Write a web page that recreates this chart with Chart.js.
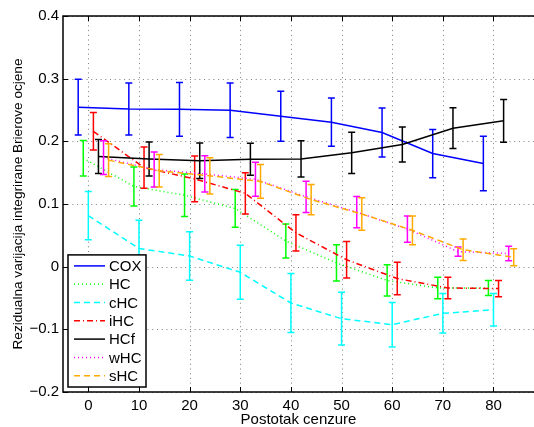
<!DOCTYPE html>
<html>
<head>
<meta charset="UTF-8" />
<script src="https://cdn.jsdelivr.net/npm/chart.js@4.4.0/dist/chart.umd.min.js"></script>
<style>
  body { margin: 0; background: #fff; }
  #wrap { width: 534px; height: 427px; }
</style>
</head>
<body>
<div id="wrap"><canvas id="chart" width="534" height="427"></canvas></div>
<script>
// postotak cenzure (each method drawn slightly shifted so the bars don't overlap)
const censoring = [0, 10, 20, 30, 40, 50, 60, 70, 80];
const names = ['COX', 'HC', 'cHC', 'iHC', 'HCf', 'wHC', 'sHC'];
const shift = [-2, -1, 0, 1, 2, 3, 4];

const cox    = [0.2545, 0.2515, 0.251, 0.2495, 0.240, 0.2305, 0.214, 0.1805, 0.1645];
const coxErr = [0.0445, 0.0415, 0.043, 0.0435, 0.040, 0.0385, 0.039, 0.0385, 0.0435];
const hc     = [0.173, 0.128, 0.114, 0.093, 0.041, 0.006, -0.022, -0.034, -0.034];
const hcErr  = [0.0285, 0.031, 0.034, 0.030, 0.027, 0.029, 0.025, 0.017, 0.012];
const chc    = [0.0815, 0.029, 0.017, -0.009, -0.058, -0.083, -0.0925, -0.0745, -0.0687];
const chcErr = [0.0385, 0.045, 0.0387, 0.043, 0.047, 0.042, 0.0355, 0.0315, 0.026];
const ihc    = [0.216, 0.158, 0.140, 0.117, 0.054, 0.011, -0.019, -0.034, -0.035];
const ihcErr = [0.030, 0.033, 0.0365, 0.033, 0.029, 0.029, 0.026, 0.017, 0.013];
const hcf    = [0.1758, 0.1718, 0.169, 0.1715, 0.172, 0.1816, 0.195, 0.221, 0.2327];
const hcfErr = [0.027, 0.027, 0.0285, 0.0255, 0.029, 0.033, 0.028, 0.0325, 0.034];
const whc    = [0.174, 0.155, 0.148, 0.1395, 0.1115, 0.087, 0.060, 0.024, 0.021];
const whcErr = [0.027, 0.028, 0.029, 0.027, 0.025, 0.025, 0.021, 0.0075, 0.0115];
const shc    = [0.170, 0.153, 0.145, 0.136, 0.107, 0.084, 0.058, 0.027, 0.015];
const shcErr = [0.026, 0.026, 0.029, 0.027, 0.024, 0.026, 0.023, 0.017, 0.0135];

const xTicks = [0, 10, 20, 30, 40, 50, 60, 70, 80];
const yTicks = [-0.2, -0.1, 0, 0.1, 0.2, 0.3, 0.4];
const yTickLabels = ['\u22120.2', '\u22120.1', '0', '0.1', '0.2', '0.3', '0.4'];

const values = [cox, hc, chc, ihc, hcf, whc, shc];
const errors = [coxErr, hcErr, chcErr, ihcErr, hcfErr, whcErr, shcErr];
const colors = ['#0000ff', '#00ff00', '#00ffff', '#ff0000', '#000000', '#ff00ff', '#ffaa00'];
const dashes = [[], [1, 3], [6, 4], [6, 3, 1, 3], [], [1, 3], [6, 4]];

const FONT = '"Liberation Sans", Arial, Helvetica, sans-serif';

const datasets = names.map((n, i) => ({
    label: n,
    data: values[i].map((v, j) => ({ x: censoring[j] + shift[i], y: v })),
    borderColor: colors[i],
    backgroundColor: colors[i],
    borderWidth: 1.5,
    borderDash: dashes[i],
    pointRadius: 0,
    tension: 0,
    fill: false,
    order: names.length - i
}));

const matlabLook = {
    id: 'matlabLook',
    beforeDatasetsDraw(chart) {
        const { ctx, chartArea: a, scales: { x, y } } = chart;
        ctx.save();
        ctx.strokeStyle = 'rgba(0,0,0,0.5)';
        ctx.lineWidth = 1;
        ctx.setLineDash([1, 3.7]);
        xTicks.forEach(t => {
            const px = Math.round(x.getPixelForValue(t)) + 0.5;
            ctx.beginPath(); ctx.moveTo(px, a.top); ctx.lineTo(px, a.bottom); ctx.stroke();
        });
        yTicks.forEach(t => {
            const py = Math.round(y.getPixelForValue(t)) + 0.5;
            ctx.beginPath(); ctx.moveTo(a.left, py); ctx.lineTo(a.right, py); ctx.stroke();
        });
        ctx.restore();
    },
    afterDatasetDraw(chart, args) {
        const i = args.index;
        const { ctx, scales: { x, y } } = chart;
        ctx.save();
        ctx.strokeStyle = colors[i];
        ctx.lineWidth = 1.5;
        ctx.setLineDash([]);
        values[i].forEach((v, j) => {
            const px = x.getPixelForValue(censoring[j] + shift[i]);
            const top = y.getPixelForValue(v + errors[i][j]);
            const bot = y.getPixelForValue(v - errors[i][j]);
            ctx.beginPath();
            ctx.moveTo(px, top); ctx.lineTo(px, bot);
            ctx.moveTo(px - 3.5, top); ctx.lineTo(px + 3.5, top);
            ctx.moveTo(px - 3.5, bot); ctx.lineTo(px + 3.5, bot);
            ctx.stroke();
        });
        ctx.restore();
    },
    afterDraw(chart) {
        const { ctx, chartArea: a, scales: { x, y } } = chart;
        ctx.save();
        ctx.strokeStyle = '#000';
        ctx.lineWidth = 1.5;
        ctx.setLineDash([]);
        // box
        ctx.beginPath();
        ctx.moveTo(a.right, a.top); ctx.lineTo(a.left, a.top);
        ctx.lineTo(a.left, a.bottom); ctx.lineTo(a.right, a.bottom);
        ctx.stroke();
        // inward ticks
        ctx.lineWidth = 1;
        xTicks.forEach(t => {
            const px = Math.round(x.getPixelForValue(t)) + 0.5;
            ctx.beginPath();
            ctx.moveTo(px, a.bottom); ctx.lineTo(px, a.bottom - 5);
            ctx.moveTo(px, a.top); ctx.lineTo(px, a.top + 5);
            ctx.stroke();
        });
        yTicks.forEach(t => {
            const py = Math.round(y.getPixelForValue(t)) + 0.5;
            ctx.beginPath(); ctx.moveTo(a.left, py); ctx.lineTo(a.left + 5, py); ctx.stroke();
        });

        // legend, lower left corner
        const lx = a.left + 5, lw = 78, rowH = 18.3, lh = names.length * rowH + 4;
        const ly = a.bottom - 5 - lh;
        ctx.fillStyle = '#fff';
        ctx.fillRect(lx, ly, lw, lh);
        ctx.strokeStyle = '#000';
        ctx.lineWidth = 1.5;
        ctx.strokeRect(lx, ly, lw, lh);
        ctx.font = '15px ' + FONT;
        ctx.textBaseline = 'middle';
        names.forEach((n, i) => {
            const ry = ly + 11 + i * rowH;
            ctx.strokeStyle = colors[i];
            ctx.lineWidth = 1.5;
            ctx.setLineDash(dashes[i]);
            ctx.beginPath(); ctx.moveTo(lx + 6, ry); ctx.lineTo(lx + 37, ry); ctx.stroke();
            ctx.setLineDash([]);
            ctx.fillStyle = '#000';
            ctx.fillText(n, lx + 41, ry + 1);
        });
        ctx.restore();
    }
};

new Chart(document.getElementById('chart'), {
    type: 'line',
    data: { datasets: datasets },
    options: {
        responsive: false,
        animation: false,
        devicePixelRatio: 1,
        layout: { padding: { top: 16, left: 0, right: 0, bottom: 0 } },
        plugins: { legend: { display: false }, tooltip: { enabled: false } },
        scales: {
            x: {
                type: 'linear',
                min: -5,
                max: 88,
                grid: { display: false, drawTicks: false },
                border: { display: false },
                afterBuildTicks: s => { s.ticks = xTicks.map(v => ({ value: v })); },
                afterFit: s => { s.height = 35; },
                ticks: { color: '#000', padding: 5, maxRotation: 0, font: { family: FONT, size: 15 } },
                title: { display: true, text: 'Postotak cenzure', color: '#000',
                         padding: { top: 0, bottom: -2 }, font: { family: FONT, size: 15 } }
            },
            y: {
                type: 'linear',
                min: -0.2,
                max: 0.4,
                grid: { display: false, drawTicks: false },
                border: { display: false },
                afterBuildTicks: s => { s.ticks = yTicks.map(v => ({ value: v })); },
                afterFit: s => { s.width = 63; },
                ticks: {
                    color: '#000', padding: 4, font: { family: FONT, size: 15 },
                    callback: (v, idx) => yTickLabels[idx]
                },
                title: { display: true, text: 'Rezidualna varijacija integrirane Brierove ocjene', color: '#000',
                         padding: { top: 10, bottom: 0 }, font: { family: FONT, size: 13.6 } }
            }
        }
    },
    plugins: [matlabLook]
});
</script>
</body>
</html>
